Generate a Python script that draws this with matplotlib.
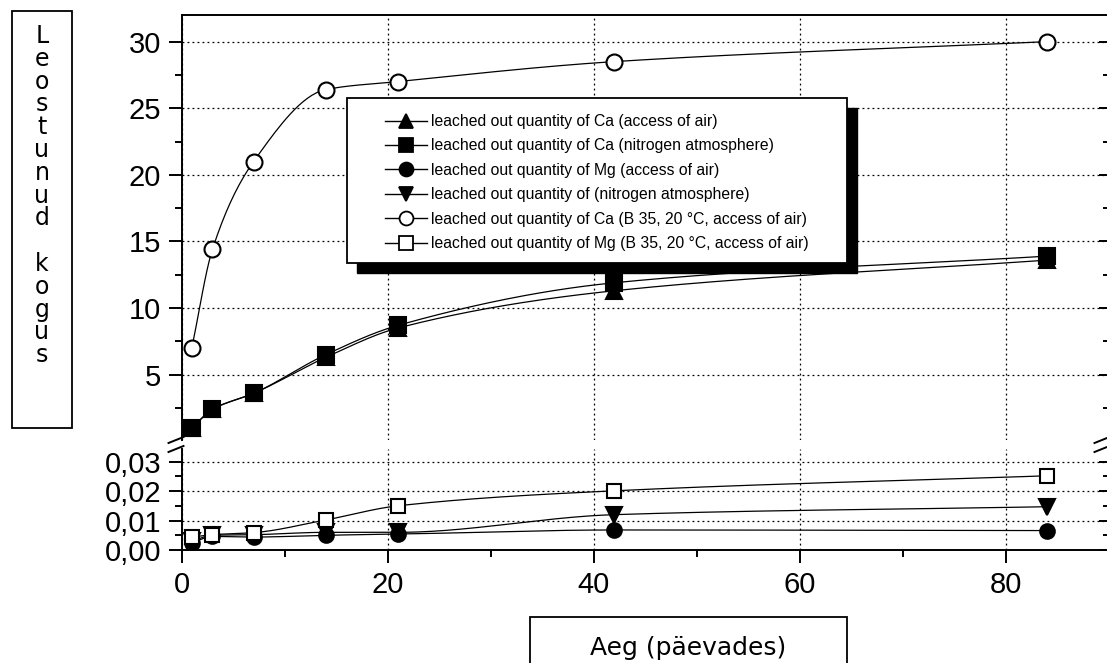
import numpy as np
import matplotlib
matplotlib.use("Agg")
import matplotlib.pyplot as plt
from matplotlib.lines import Line2D
from matplotlib.patches import Rectangle
from matplotlib.ticker import MultipleLocator, FuncFormatter

# ===== DATA =====
days = [1, 3, 7, 14, 21, 42, 84]
ca_air = [1.0, 2.4, 3.6, 6.3, 8.5, 11.3, 13.6]          # filled triangle up
ca_n2 = [1.0, 2.4, 3.6, 6.5, 8.7, 11.9, 13.9]           # filled square
mg_air = [0.0024, 0.0046, 0.0044, 0.0050, 0.0054, 0.0068, 0.0066]   # filled circle
mg_n2 = [0.0030, 0.0050, 0.0052, 0.0060, 0.0060, 0.0120, 0.0147]    # filled triangle down
ca_b35 = [7.0, 14.4, 21.0, 26.4, 27.0, 28.5, 30.0]      # open circle
mg_b35 = [0.0044, 0.0052, 0.0059, 0.0102, 0.0150, 0.0201, 0.0252]   # open square

labels = [
    "leached out quantity of Ca (access of air)",
    "leached out quantity of Ca (nitrogen atmosphere)",
    "leached out quantity of Mg (access of air)",
    "leached out quantity of (nitrogen atmosphere)",
    "leached out quantity of Ca (B 35, 20 \u00b0C, access of air)",
    "leached out quantity of Mg (B 35, 20 \u00b0C, access of air)",
]
ylabel_text = "Leostunud kogus"
xlabel_text = "Aeg (p\u00e4evades)"

# ===== LAYOUT (pixels) =====
W, H = 1107, 663
plt.rcParams["font.family"] = ["Liberation Sans", "DejaVu Sans"]


def fx(px):
    return px / W


def fy(py):
    return 1 - py / H


def pchip(x, y, xs):
    """monotone cubic through the points (Fritsch-Carlson)"""
    x = np.asarray(x, float); y = np.asarray(y, float)
    h = np.diff(x); d = np.diff(y) / h
    m = np.zeros_like(y)
    m[0], m[-1] = d[0], d[-1]
    for k in range(1, len(x) - 1):
        if d[k - 1] * d[k] > 0:
            w1 = 2 * h[k] + h[k - 1]
            w2 = h[k] + 2 * h[k - 1]
            m[k] = (w1 + w2) / (w1 / d[k - 1] + w2 / d[k])
    idx = np.clip(np.searchsorted(x, xs) - 1, 0, len(x) - 2)
    t = (xs - x[idx]) / h[idx]
    h00 = 2 * t**3 - 3 * t**2 + 1
    h10 = t**3 - 2 * t**2 + t
    h01 = -2 * t**3 + 3 * t**2
    h11 = t**3 - t**2
    return h00 * y[idx] + h10 * h[idx] * m[idx] + h01 * y[idx + 1] + h11 * h[idx] * m[idx + 1]


fig = plt.figure(figsize=(W / 100, H / 100), dpi=100)
x0, x1 = 181.5, 1108.5
ax_top = fig.add_axes([fx(x0), fy(440), (x1 - x0) / W, (440 - 15) / H])
ax_bot = fig.add_axes([fx(x0), fy(550), (x1 - x0) / W, (550 - 449) / H])

xs = np.linspace(days[0], days[-1], 400)
series = [
    (ax_top, ca_air, "^", "black"),
    (ax_top, ca_n2, "s", "black"),
    (ax_bot, mg_air, "o", "black"),
    (ax_bot, mg_n2, "v", "black"),
    (ax_top, ca_b35, "o", "white"),
    (ax_bot, mg_b35, "s", "white"),
]
for ax, vals, mk, fc in series:
    ax.plot(xs, pchip(days, vals, xs), color="black", lw=0.9, zorder=2)
    ms = 11.5 if mk in ("s", "o") else 12
    if ax is ax_bot:
        ms = 10.5 if mk != "v" else 11.5
    ax.plot(days, vals, ls="none", marker=mk, ms=ms, mfc=fc, mec="black",
            mew=1.5, zorder=3)

for ax in (ax_top, ax_bot):
    ax.set_xlim(0, 90)
    for s in ax.spines.values():
        s.set_linewidth(1.4)
    ax.xaxis.set_major_locator(MultipleLocator(20))
    ax.xaxis.set_minor_locator(MultipleLocator(10))
    ax.grid(True, which="major", color="black", linestyle=(0, (1.5, 2.5)), linewidth=0.9)
    ax.set_axisbelow(True)
    ax.tick_params(axis="y", which="major", direction="out", length=9.5, width=1.4,
                   labelsize=21, pad=5, right=False)
    ax.tick_params(axis="y", which="minor", direction="out", length=5, width=1.4, right=False)
    ax.spines["right"].set_visible(False)

ax_top.set_ylim(0.1, 32)
ax_top.yaxis.set_major_locator(MultipleLocator(5))
ax_top.yaxis.set_minor_locator(MultipleLocator(2.5))
ax_top.spines["bottom"].set_visible(False)
ax_top.tick_params(axis="x", which="both", bottom=False, top=False, labelbottom=False)

ax_bot.set_ylim(0, 0.0343)
ax_bot.yaxis.set_major_locator(MultipleLocator(0.01))
ax_bot.yaxis.set_minor_locator(MultipleLocator(0.005))
ax_bot.yaxis.set_major_formatter(FuncFormatter(lambda v, p: f"{v:.2f}".replace(".", ",")))
ax_bot.spines["top"].set_visible(False)
ax_bot.tick_params(axis="x", which="major", direction="out", length=9, width=1.4,
                   labelsize=21, pad=6, top=False)
ax_bot.tick_params(axis="x", which="minor", direction="out", length=5, width=1.4, top=False)

# right side: inward ticks
for ax in (ax_top, ax_bot):
    sec = ax.secondary_yaxis("right")
    sec.yaxis.set_major_locator(ax.yaxis.get_major_locator())
    sec.yaxis.set_minor_locator(ax.yaxis.get_minor_locator())
    sec.tick_params(which="major", direction="in", length=7, width=1.4, labelright=False)
    sec.tick_params(which="minor", direction="in", length=4, width=1.4)
    sec.spines["right"].set_linewidth(1.4)

# break marks on both sides
for xc in (x0, x1 - 1):
    for yc in (440, 449):
        fig.add_artist(Line2D([fx(xc - 13), fx(xc + 2)], [fy(yc + 3), fy(yc - 3)],
                              transform=fig.transFigure, color="black", lw=1.4))

# legend with a hard black shadow
handles = [Line2D([], [], color="black", lw=1, marker=mk, ms=10, mfc=fc,
                  mec="black", mew=1.3) for _, _, mk, fc in series]
fig.add_artist(Rectangle((fx(357), fy(273)), 500 / W, 165 / H, transform=fig.transFigure,
                         facecolor="black", edgecolor="black", zorder=5))
fig.add_artist(Rectangle((fx(347), fy(263)), 500 / W, 165 / H, transform=fig.transFigure,
                         facecolor="white", edgecolor="black", lw=1.3, zorder=5.1))
leg = fig.legend(handles, labels, loc="upper left", bbox_to_anchor=(fx(385), fy(114)),
                 bbox_transform=fig.transFigure, frameon=False, fontsize=11.3,
                 borderpad=0, borderaxespad=0, handlelength=2.67, handletextpad=0.25,
                 labelspacing=0.6)
leg.set_zorder(6)

# axis titles in boxes
fig.add_artist(Rectangle((fx(12), fy(428)), 60 / W, 417 / H, transform=fig.transFigure,
                         facecolor="none", edgecolor="black", lw=1.3))
for i, ch in enumerate(ylabel_text):
    fig.text(fx(42), fy(43 + i * 22.8), ch, ha="center", va="baseline",
             fontsize=17, family="DejaVu Sans")
fig.add_artist(Rectangle((fx(530), fy(670)), 317 / W, 53 / H, transform=fig.transFigure,
                         facecolor="none", edgecolor="black", lw=1.3))
fig.text(fx(688), fy(655), xlabel_text, ha="center", va="baseline",
         fontsize=18, family="DejaVu Sans")

fig.savefig("out.png", dpi=100)
